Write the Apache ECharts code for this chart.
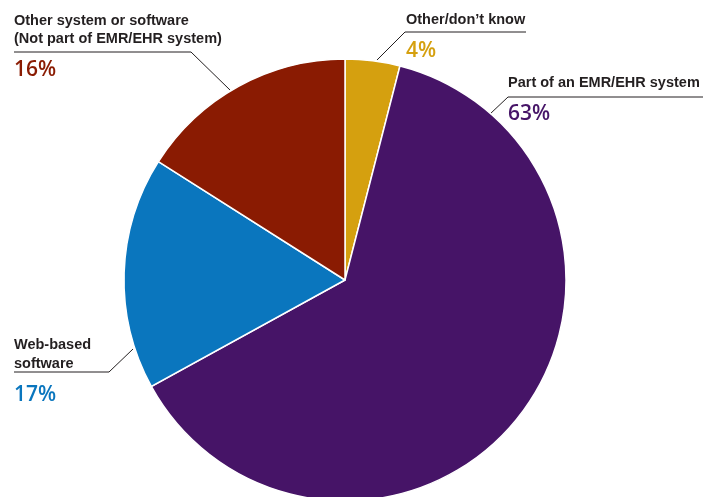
<!DOCTYPE html>
<html><head><meta charset="utf-8">
<script src="https://cdn.jsdelivr.net/npm/echarts@6/dist/echarts.min.js"></script>
<style>html,body{margin:0;padding:0;background:#fff}#c{width:718px;height:497px}</style>
</head><body><div id="c"></div>
<script>
// ---- data ----
const categories = ['Other/don\u2019t know', 'Part of an EMR/EHR system', 'Web-based\nsoftware', 'Other system or software\n(Not part of EMR/EHR system)'];
const values = [4, 63, 17, 16];
const colors = ['#d5a00f', '#461467', '#0a76be', '#8a1b02'];

// ---- label layout (positions only) ----
const labelPos = [
  { x: 406, y: 11, line: [[377, 60], [405, 32], [526, 32]] },
  { x: 508, y: 74, line: [[490, 114], [508, 97], [703, 97]] },
  { x: 14, y: 336, line: [[133, 349], [109, 372], [14, 372]] },
  { x: 14, y: 11.5, line: [[230, 90], [191, 52], [14, 52]] }
];
const FONT = '"Liberation Sans", Arial, sans-serif';
const PFONT = '"Open Sans", sans-serif';

const chart = echarts.init(document.getElementById('c'), null, { renderer: 'canvas' });
chart.setOption({
  animation: false,
  backgroundColor: '#ffffff',
  series: [{
    type: 'pie',
    center: [345, 280],
    radius: 221,
    startAngle: 90,
    clockwise: true,
    avoidLabelOverlap: false,
    itemStyle: { borderColor: '#ffffff', borderWidth: 1.5 },
    data: categories.map((c, i) => ({
      name: c, value: values[i],
      itemStyle: { color: colors[i] },
      label: { rich: { p: { color: colors[i] } } }
    })),
    label: {
      show: true,
      formatter: p => '{n|' + p.name + '}\n{p|' + p.value + '%}',
      rich: {
        n: { fontFamily: FONT, fontWeight: 'bold', fontSize: 14.5, lineHeight: 18.5, color: '#231f20' },
        p: { fontFamily: PFONT, fontWeight: 600, fontSize: 21, lineHeight: 44 }
      }
    },
    labelLine: { show: true, lineStyle: { color: '#231f20', width: 1 } },
    labelLayout: params => {
      const L = labelPos[params.dataIndex];
      return { x: L.x, y: L.y, align: 'left', verticalAlign: 'top', labelLinePoints: L.line };
    }
  }]
});
</script></body></html>
